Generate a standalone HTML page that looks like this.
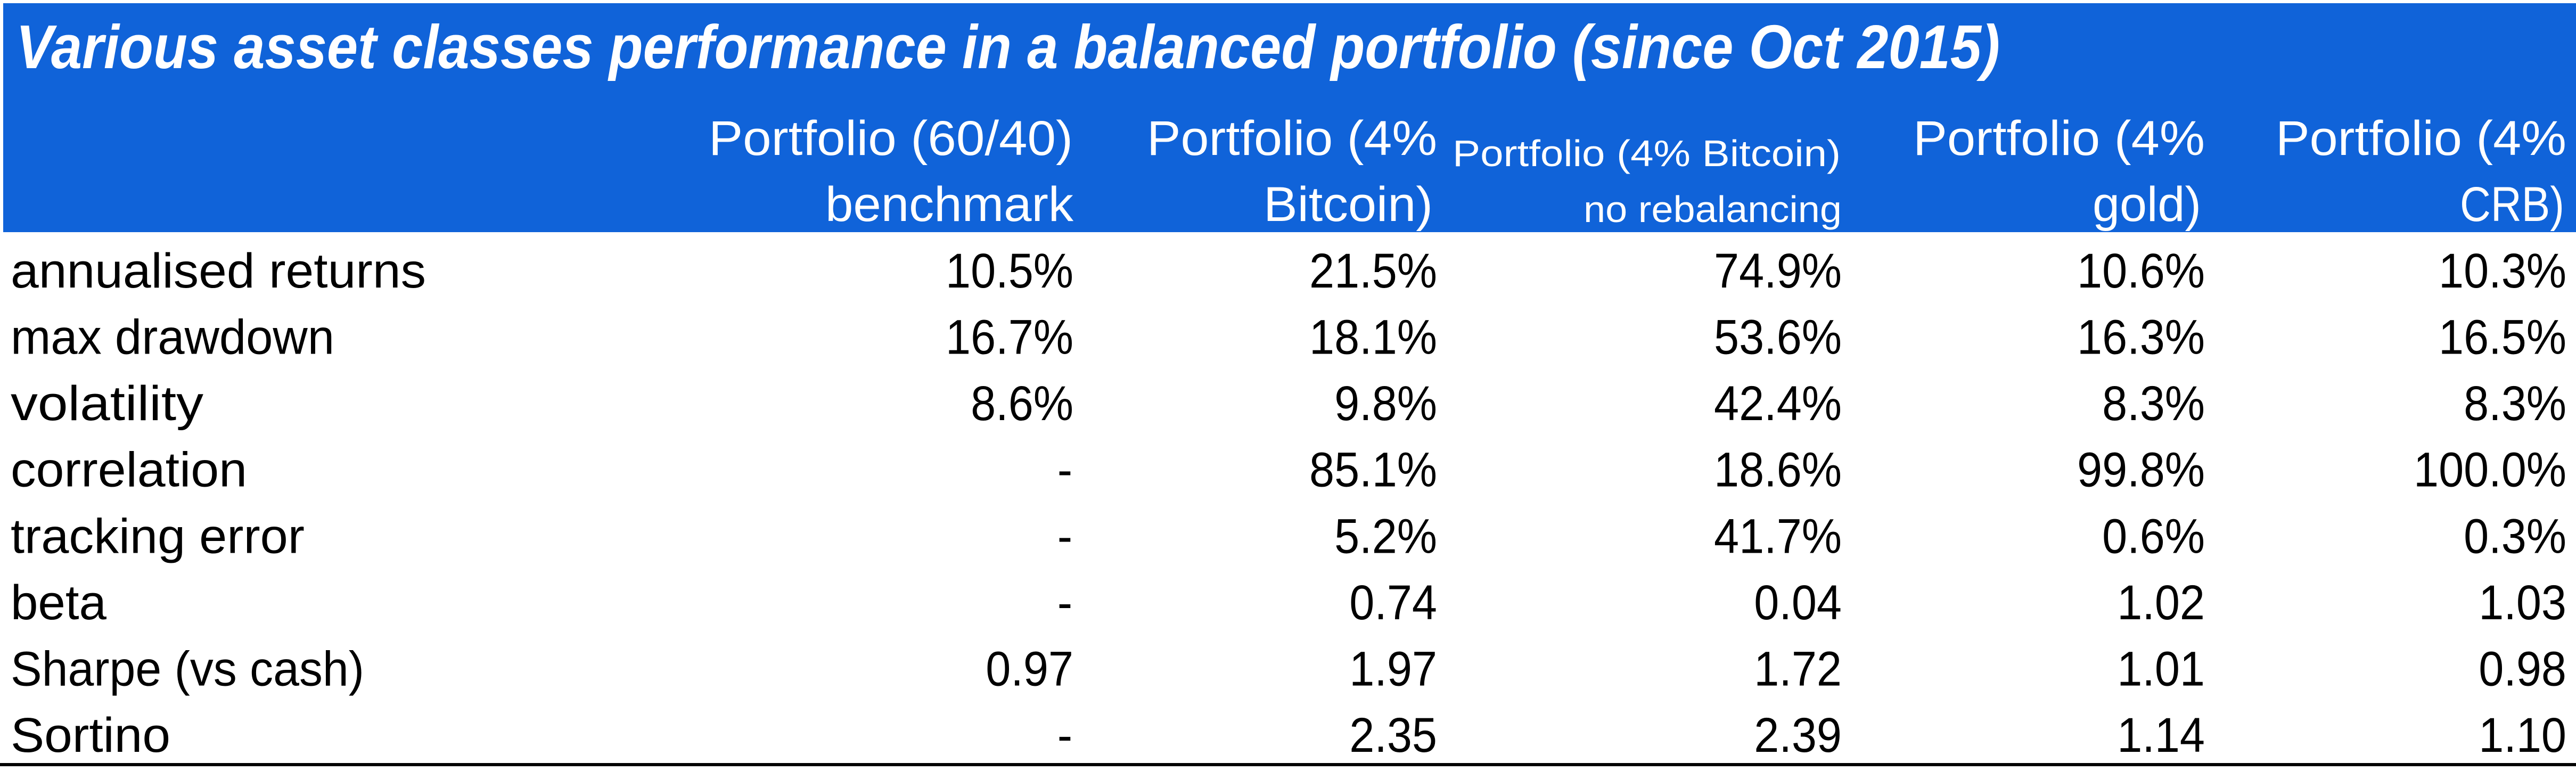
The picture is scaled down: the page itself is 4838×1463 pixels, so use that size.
<!DOCTYPE html>
<html>
<head>
<meta charset="utf-8">
<style>
  html, body { margin:0; padding:0; background:#ffffff; }
  svg { display:block; }
  .t { font-family:"Liberation Sans", sans-serif; }
</style>
</head>
<body>
<svg width="4838" height="1463" viewBox="0 0 4838 1463" xmlns="http://www.w3.org/2000/svg">
  <rect x="0" y="0" width="4838" height="1463" fill="#ffffff"/>
  <rect x="6" y="6" width="4832" height="430" fill="#1063d9"/>

  <!-- Title -->
  <text class="t" x="30" y="128" font-size="116" font-weight="bold" font-style="italic" fill="#ffffff" textLength="3726" lengthAdjust="spacingAndGlyphs">Various asset classes performance in a balanced portfolio (since Oct 2015)</text>

  <!-- Header -->
  <g class="t" fill="#ffffff" font-size="92">
    <text x="1331" y="291" textLength="684" lengthAdjust="spacingAndGlyphs">Portfolio (60/40)</text>
    <text x="1550" y="415" textLength="466" lengthAdjust="spacingAndGlyphs">benchmark</text>
    <text x="2154" y="291" textLength="545" lengthAdjust="spacingAndGlyphs">Portfolio (4%</text>
    <text x="2373" y="415" textLength="318" lengthAdjust="spacingAndGlyphs">Bitcoin)</text>
    <text x="3593" y="291" textLength="548" lengthAdjust="spacingAndGlyphs">Portfolio (4%</text>
    <text x="3930" y="415" textLength="204" lengthAdjust="spacingAndGlyphs">gold)</text>
    <text x="4274" y="291" textLength="546" lengthAdjust="spacingAndGlyphs">Portfolio (4%</text>
    <text x="4620" y="415" textLength="196" lengthAdjust="spacingAndGlyphs">CRB)</text>
  </g>
  <g class="t" fill="#ffffff" font-size="70">
    <text x="2728" y="312" textLength="729" lengthAdjust="spacingAndGlyphs">Portfolio (4% Bitcoin)</text>
    <text x="2974" y="417" textLength="485" lengthAdjust="spacingAndGlyphs">no rebalancing</text>
  </g>

  <!-- Row labels -->
  <g class="t" fill="#000000" font-size="92">
    <text x="20" y="540" textLength="780" lengthAdjust="spacingAndGlyphs">annualised returns</text>
    <text x="20" y="664.6" textLength="608" lengthAdjust="spacingAndGlyphs">max drawdown</text>
    <text x="20" y="789.1" textLength="362" lengthAdjust="spacingAndGlyphs">volatility</text>
    <text x="20" y="913.7" textLength="444" lengthAdjust="spacingAndGlyphs">correlation</text>
    <text x="20" y="1038.3" textLength="552" lengthAdjust="spacingAndGlyphs">tracking error</text>
    <text x="20" y="1162.9" textLength="180" lengthAdjust="spacingAndGlyphs">beta</text>
    <text x="20" y="1287.4" textLength="664" lengthAdjust="spacingAndGlyphs">Sharpe (vs cash)</text>
    <text x="20" y="1412" textLength="300" lengthAdjust="spacingAndGlyphs">Sortino</text>
  </g>

  <!-- Values col1 -->
  <g class="t" fill="#000000" font-size="92" text-anchor="end">
    <text transform="translate(2016,540) scale(0.92,1)">10.5%</text>
    <text transform="translate(2016,664.6) scale(0.92,1)">16.7%</text>
    <text transform="translate(2016,789.1) scale(0.92,1)">8.6%</text>
    <text transform="translate(2014,913.7) scale(0.92,1)">-</text>
    <text transform="translate(2014,1038.3) scale(0.92,1)">-</text>
    <text transform="translate(2014,1162.9) scale(0.92,1)">-</text>
    <text transform="translate(2016,1287.4) scale(0.92,1)">0.97</text>
    <text transform="translate(2014,1412) scale(0.92,1)">-</text>
  </g>
  <!-- Values col2 -->
  <g class="t" fill="#000000" font-size="92" text-anchor="end">
    <text transform="translate(2699,540) scale(0.92,1)">21.5%</text>
    <text transform="translate(2699,664.6) scale(0.92,1)">18.1%</text>
    <text transform="translate(2699,789.1) scale(0.92,1)">9.8%</text>
    <text transform="translate(2699,913.7) scale(0.92,1)">85.1%</text>
    <text transform="translate(2699,1038.3) scale(0.92,1)">5.2%</text>
    <text transform="translate(2699,1162.9) scale(0.92,1)">0.74</text>
    <text transform="translate(2699,1287.4) scale(0.92,1)">1.97</text>
    <text transform="translate(2699,1412) scale(0.92,1)">2.35</text>
  </g>
  <!-- Values col3 -->
  <g class="t" fill="#000000" font-size="92" text-anchor="end">
    <text transform="translate(3459,540) scale(0.92,1)">74.9%</text>
    <text transform="translate(3459,664.6) scale(0.92,1)">53.6%</text>
    <text transform="translate(3459,789.1) scale(0.92,1)">42.4%</text>
    <text transform="translate(3459,913.7) scale(0.92,1)">18.6%</text>
    <text transform="translate(3459,1038.3) scale(0.92,1)">41.7%</text>
    <text transform="translate(3459,1162.9) scale(0.92,1)">0.04</text>
    <text transform="translate(3459,1287.4) scale(0.92,1)">1.72</text>
    <text transform="translate(3459,1412) scale(0.92,1)">2.39</text>
  </g>
  <!-- Values col4 -->
  <g class="t" fill="#000000" font-size="92" text-anchor="end">
    <text transform="translate(4141,540) scale(0.92,1)">10.6%</text>
    <text transform="translate(4141,664.6) scale(0.92,1)">16.3%</text>
    <text transform="translate(4141,789.1) scale(0.92,1)">8.3%</text>
    <text transform="translate(4141,913.7) scale(0.92,1)">99.8%</text>
    <text transform="translate(4141,1038.3) scale(0.92,1)">0.6%</text>
    <text transform="translate(4141,1162.9) scale(0.92,1)">1.02</text>
    <text transform="translate(4141,1287.4) scale(0.92,1)">1.01</text>
    <text transform="translate(4141,1412) scale(0.92,1)">1.14</text>
  </g>
  <!-- Values col5 -->
  <g class="t" fill="#000000" font-size="92" text-anchor="end">
    <text transform="translate(4820,540) scale(0.92,1)">10.3%</text>
    <text transform="translate(4820,664.6) scale(0.92,1)">16.5%</text>
    <text transform="translate(4820,789.1) scale(0.92,1)">8.3%</text>
    <text transform="translate(4820,913.7) scale(0.92,1)">100.0%</text>
    <text transform="translate(4820,1038.3) scale(0.92,1)">0.3%</text>
    <text transform="translate(4820,1162.9) scale(0.92,1)">1.03</text>
    <text transform="translate(4820,1287.4) scale(0.92,1)">0.98</text>
    <text transform="translate(4820,1412) scale(0.92,1)">1.10</text>
  </g>

  <!-- Bottom rule -->
  <rect x="0" y="1433" width="4838" height="6" fill="#000000"/>
</svg>
</body>
</html>
